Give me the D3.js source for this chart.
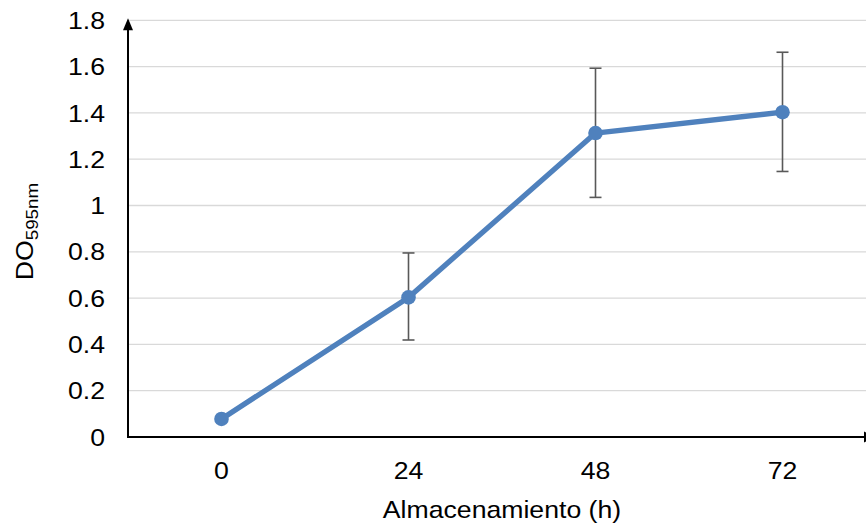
<!DOCTYPE html>
<html>
<head>
<meta charset="utf-8">
<script src="https://cdn.jsdelivr.net/npm/d3@7"></script>
<style>
  body { margin: 0; background: #fff; }
  svg { display: block; font-family: "Liberation Sans", Arial, sans-serif; }
</style>
</head>
<body>
<svg width="866" height="527"></svg>
<script>
const hours = ['0', '24', '48', '72']
const meanDO = [0.078, 0.603, 1.313, 1.403]
const errLow = [0.078, 0.419, 1.035, 1.147]
const errHigh = [0.078, 0.795, 1.593, 1.662]
const yTicks = [0, 0.2, 0.4, 0.6, 0.8, 1, 1.2, 1.4, 1.6, 1.8]

const svg = d3.select('svg')
const chartWidth = 866
const plotLeft = 128
const plotBottom = 437
const plotTop = 20.3
const stretch = 1.11 // the source text is a bit wider than Liberation Sans

const x = d3.scaleBand().domain(hours).range([plotLeft, 876])
const cx = h => x(h) + x.bandwidth() / 2
const y = d3.scaleLinear().domain([0, 1.8]).range([plotBottom, plotTop])

// gridlines
svg.append('g')
  .selectAll('line')
  .data(yTicks.slice(1))
  .join('line')
  .attr('x1', plotLeft)
  .attr('x2', chartWidth)
  .attr('y1', d => y(d))
  .attr('y2', d => y(d))
  .attr('stroke', '#d9d9d9')
  .attr('stroke-width', 1.3)

// y tick labels
svg.append('g')
  .selectAll('text')
  .data(yTicks)
  .join('text')
  .attr('transform', d => `translate(105,${y(d)}) scale(${stretch},1)`)
  .attr('dy', '0.36em')
  .attr('text-anchor', 'end')
  .attr('font-size', 24)
  .attr('fill', '#000')
  .text(d => d3.format('')(d))

// x tick labels
svg.append('g')
  .selectAll('text')
  .data(hours)
  .join('text')
  .attr('transform', d => `translate(${cx(d)},479) scale(${stretch},1)`)
  .attr('text-anchor', 'middle')
  .attr('font-size', 24)
  .text(d => d)

// axes with arrows
svg.append('line')
  .attr('x1', plotLeft).attr('x2', plotLeft)
  .attr('y1', plotBottom + 0.5).attr('y2', 26)
  .attr('stroke', '#000').attr('stroke-width', 2)
svg.append('path')
  .attr('d', `M${plotLeft - 5},${plotTop + 10}L${plotLeft},${plotTop - 2}L${plotLeft + 5},${plotTop + 10}Z`)
  .attr('fill', '#000')

svg.append('line')
  .attr('x1', plotLeft - 1).attr('x2', 866)
  .attr('y1', plotBottom).attr('y2', plotBottom)
  .attr('stroke', '#000').attr('stroke-width', 2)
svg.append('path')
  .attr('d', `M864,${plotBottom - 5.5}L876,${plotBottom}L864,${plotBottom + 5.5}Z`)
  .attr('fill', '#000')

// error bars
const eb = svg.append('g').attr('stroke', '#595959').attr('stroke-width', 1.6)
hours.forEach((h, i) => {
  if (errHigh[i] - errLow[i] < 0.01) return
  eb.append('line').attr('x1', cx(h)).attr('x2', cx(h)).attr('y1', y(errLow[i])).attr('y2', y(errHigh[i]))
  eb.append('line').attr('x1', cx(h) - 6).attr('x2', cx(h) + 6).attr('y1', y(errLow[i])).attr('y2', y(errLow[i]))
  eb.append('line').attr('x1', cx(h) - 6).attr('x2', cx(h) + 6).attr('y1', y(errHigh[i])).attr('y2', y(errHigh[i]))
})

// series line + markers
const line = d3.line()
  .x((d, i) => cx(hours[i]))
  .y(d => y(d))

svg.append('path')
  .datum(meanDO)
  .attr('fill', 'none')
  .attr('stroke', '#4f81bd')
  .attr('stroke-width', 5.3)
  .attr('stroke-linejoin', 'round')
  .attr('d', line)

svg.append('g')
  .selectAll('circle')
  .data(meanDO)
  .join('circle')
  .attr('cx', (d, i) => cx(hours[i]))
  .attr('cy', d => y(d))
  .attr('r', 7.3)
  .attr('fill', '#4f81bd')

// axis titles
svg.append('text')
  .attr('transform', `translate(502,518) scale(${stretch},1)`)
  .attr('text-anchor', 'middle')
  .attr('font-size', 24)
  .text('Almacenamiento (h)')

const yTitle = svg.append('text')
  .attr('transform', `translate(33,231.5) rotate(-90) scale(${stretch},1)`)
  .attr('text-anchor', 'middle')
  .attr('font-size', 24)
yTitle.append('tspan').text('DO')
yTitle.append('tspan').attr('font-size', 17).attr('dy', 5).text('595nm')
</script>
</body>
</html>
